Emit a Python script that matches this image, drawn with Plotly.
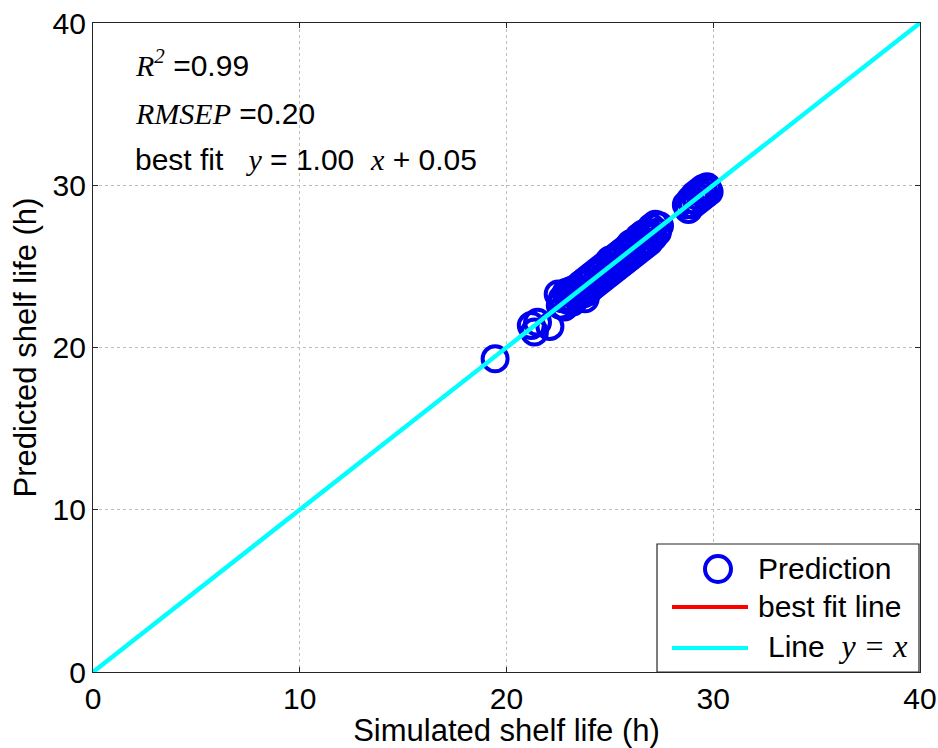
import plotly.graph_objects as go

# ---- data ----
simulated = [19.45, 21.2, 21.35, 21.5, 22.1,
             22.5, 22.6, 22.7, 22.8, 22.9, 23.0, 23.1, 23.2, 23.3, 23.4,
             23.5, 23.6, 23.7, 23.8, 23.9, 24.0, 24.1, 24.2, 24.3, 24.4,
             24.5, 24.6, 24.7, 24.8, 24.9, 25.0, 25.1, 25.2, 25.3, 25.4,
             25.5, 25.6, 25.7, 25.8, 25.9, 26.0, 26.1, 26.2, 26.3, 26.4,
             26.5, 26.6, 26.7, 26.8, 26.9, 27.0, 27.1, 27.2, 27.3, 27.4,
             23.0, 23.5, 23.8, 24.0, 24.5, 25.0, 25.5, 26.0, 26.5, 27.0,
             28.7, 28.8, 28.9, 29.0, 29.1, 29.2, 29.3, 29.4, 29.5, 29.6,
             29.7, 29.8]
predicted = [19.3, 21.35, 20.95, 21.55, 21.3,
             23.3, 22.6, 23.0, 22.5, 23.4, 22.9, 23.5, 22.8, 23.6, 23.1,
             23.2, 23.9, 23.3, 24.1, 23.4, 24.3, 23.7, 24.5, 23.9, 24.7,
             24.1, 24.9, 24.3, 25.1, 24.5, 25.4, 24.7, 25.5, 24.9, 25.7,
             25.1, 25.9, 25.3, 26.1, 25.5, 26.4, 25.7, 26.5, 25.9, 26.8,
             26.1, 27.0, 26.3, 27.1, 26.5, 27.4, 26.8, 27.6, 27.1, 27.5,
             23.1, 23.6, 23.0, 24.0, 24.6, 25.0, 25.5, 26.0, 26.5, 27.0,
             28.8, 28.5, 29.1, 28.8, 29.4, 29.0, 29.6, 29.2, 29.8, 29.4,
             29.9, 29.6]
line_x = [0, 40]
fit_slope = 1.00
fit_intercept = 0.05
r2_text = "0.99"
rmsep_text = "0.20"
x_ticks = [0, 10, 20, 30, 40]
y_ticks = [0, 10, 20, 30, 40]

SANS = "Liberation Sans, Arial, sans-serif"
SERIF = "Liberation Serif"
FS = 30
SP = "&nbsp;"

fit_y = [fit_slope * v + fit_intercept for v in line_x]

W, H = 938, 748
L, R, T, B = 93, 18, 23, 76
pw, ph = W - L - R, H - T - B


def px(xpix):
    return (xpix - L) / pw


def py(ypix):
    return (H - B - ypix) / ph


def it(s, size=None):
    st = "font-family:%s" % SERIF
    if size:
        st += ";font-size:%dpx" % size
    return "<span style='%s'><i>%s</i></span>" % (st, s)


fig = go.Figure()
fig.add_trace(go.Scatter(x=simulated, y=predicted, mode="markers",
                         marker=dict(symbol="circle-open", size=25, color="#0000ee",
                                     line=dict(width=4, color="#0000ee")),
                         showlegend=False))
fig.add_trace(go.Scatter(x=line_x, y=fit_y, mode="lines",
                         line=dict(color="#ff0000", width=2), showlegend=False))
fig.add_trace(go.Scatter(x=line_x, y=line_x, mode="lines",
                         line=dict(color="#00ffff", width=4.5), showlegend=False))

shapes = []
# legend box
shapes.append(dict(type="rect", xref="paper", yref="paper",
                   x0=px(657), x1=px(919), y0=py(672), y1=py(544),
                   line=dict(color="#262626", width=1.2), fillcolor="white", layer="above"))
shapes.append(dict(type="circle", xref="paper", yref="paper",
                   x0=px(705), x1=px(731), y0=py(582), y1=py(556),
                   line=dict(color="#0000ee", width=4), layer="above"))
shapes.append(dict(type="line", xref="paper", yref="paper",
                   x0=px(672), x1=px(748), y0=py(607), y1=py(607),
                   line=dict(color="#ff0000", width=4), layer="above"))
shapes.append(dict(type="line", xref="paper", yref="paper",
                   x0=px(672), x1=px(748), y0=py(648), y1=py(648),
                   line=dict(color="#00ffff", width=4), layer="above"))

ann = []
for txt, xx, yy in [("Prediction", 756, 568), ("best fit line", 756, 606),
                    ("Line" + SP * 2 + it("y" + SP + "=" + SP + "x", 32), 766, 646)]:
    ann.append(dict(text=txt, xref="paper", yref="paper", x=px(xx), y=py(yy),
                    xanchor="left", yanchor="middle", showarrow=False,
                    font=dict(family=SANS, size=FS, color="black")))

stats = [
    (it("R") + "<sup>" + it("2") + "</sup>" + SP + "=" + r2_text, 63),
    (it("RMSEP") + SP + "=" + rmsep_text, 113),
    ("best fit" + SP * 3 + it("y") + " = %.2f" % fit_slope + SP * 2 + it("x")
     + " + %.2f" % fit_intercept, 160),
]
for txt, yy in stats:
    ann.append(dict(text=txt, xref="paper", yref="paper", x=px(133), y=py(yy),
                    xanchor="left", yanchor="middle", showarrow=False,
                    font=dict(family=SANS, size=FS, color="black")))

axis_common = dict(range=[0, 40], showgrid=True, gridcolor="#bdbdbd", griddash="dot",
                   gridwidth=1, zeroline=False, showline=True, linecolor="#262626",
                   linewidth=1.2, mirror="ticks", ticks="inside", ticklen=5,
                   automargin=False,
                   tickcolor="#262626", tickfont=dict(family=SANS, size=FS, color="black"))

fig.update_layout(
    template="none",
    width=W, height=H,
    margin=dict(l=L, r=R, t=T, b=B, autoexpand=False),
    paper_bgcolor="white", plot_bgcolor="white",
    xaxis=dict(**axis_common, tickvals=x_ticks,
               title=dict(text="Simulated shelf life (h)", standoff=3,
                          font=dict(family=SANS, size=31, color="black"))),
    yaxis=dict(**axis_common, tickvals=y_ticks,
               title=dict(text="Predicted shelf life (h)", standoff=6,
                          font=dict(family=SANS, size=31, color="black"))),
    shapes=shapes, annotations=ann,
)

fig.write_html("out.html", config={"displayModeBar": False},
               post_script="document.body.style.margin='0';document.body.style.overflow='hidden';")
